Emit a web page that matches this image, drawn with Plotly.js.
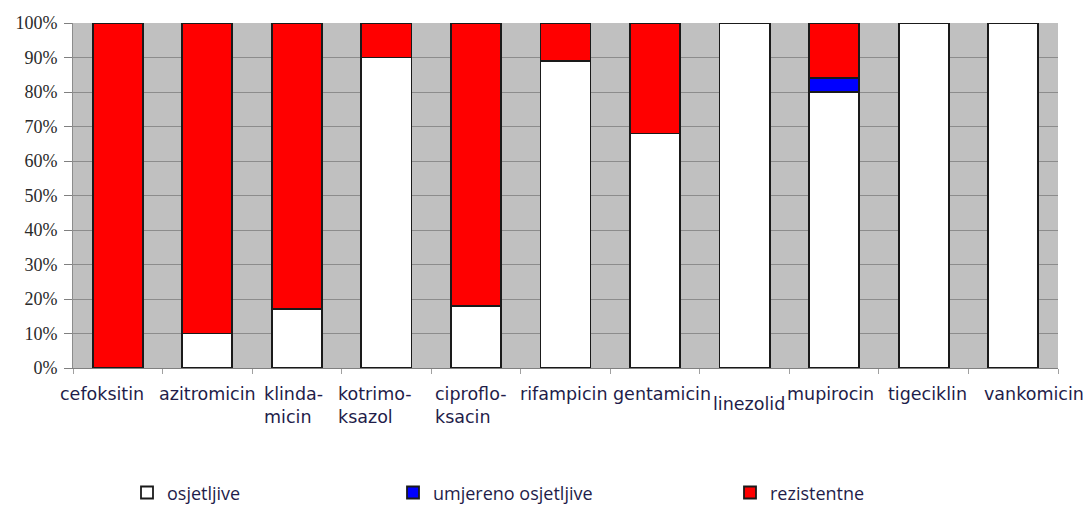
<!DOCTYPE html>
<html>
<head>
<meta charset="utf-8">
<script src="https://cdn.plot.ly/plotly-3.0.1.min.js"></script>
<style>html,body{margin:0;padding:0;background:#fff;}#chart{width:1089px;height:507px;}</style>
</head>
<body>
<div id="chart"></div>
<script>
const categories = ["cefoksitin","azitromicin","klindamicin","kotrimoksazol","ciprofloksacin","rifampicin","gentamicin","linezolid","mupirocin","tigeciklin","vankomicin"];
const tickLabels = ["cefoksitin","azitromicin","klinda-<br>micin","kotrimo-<br>ksazol","ciproflo-<br>ksacin","rifampicin","gentamicin","linezolid","mupirocin","tigeciklin","vankomicin"];
const osjetljive = [0,10,17,90,18,89,68,100,80,100,100];
const umjereno = [0,0,0,0,0,0,0,0,4,0,0];
const rezistentne = [100,90,83,10,82,11,32,0,16,0,0];
const seriesNames = ["osjetljive","umjereno osjetljive","rezistentne"];

const labelShift = [-16,0,-3,-11,-5,-2,7,4,-4,4,21];
const labelDy = [0,0,0,0,0,0,0,10,0,0,0];

const lineStyle = {color:"#1a1a1a", width:1.8};
const traces = [
  {type:"bar", name:seriesNames[0], x:categories, y:osjetljive, marker:{color:"#ffffff", line:lineStyle}, legend:"legend"},
  {type:"bar", name:seriesNames[1], x:categories, y:umjereno, marker:{color:"#0000ff", line:lineStyle}, legend:"legend2"},
  {type:"bar", name:seriesNames[2], x:categories, y:rezistentne, marker:{color:"#ff0000", line:lineStyle}, legend:"legend3"}
];

const annotations = categories.map((c,i)=>({
  x:c, y:0, xref:"x", yref:"y", yanchor:"top", xanchor:"center", align:"left",
  text:tickLabels[i], showarrow:false, xshift:labelShift[i], yshift:-14-labelDy[i],
  font:{family:"'DejaVu Sans', Verdana, sans-serif", size:17.5, color:"#1f1d4a"}
}));

const legFont = {family:"'Open Sans', sans-serif", size:18, color:"#1f1d4a"};
const legBase = {orientation:"h", yanchor:"middle", xanchor:"left", xref:"paper", yref:"container", y:0.028, font:legFont, bgcolor:"rgba(0,0,0,0)", itemwidth:30};

const layout = {
  width:1089, height:507,
  margin:{l:73, r:31, t:23, b:139},
  paper_bgcolor:"#ffffff", plot_bgcolor:"#c0c0c0",
  barmode:"stack", bargap:0.44,
  showlegend:true,
  legend:Object.assign({}, legBase, {x:(127-73)/985}),
  legend2:Object.assign({}, legBase, {x:(393-73)/985}),
  legend3:Object.assign({}, legBase, {x:(730-73)/985}),
  xaxis:{range:[-0.5,10.5], autorange:false, showticklabels:false, tickson:"boundaries", ticks:"outside", ticklen:5, tickcolor:"#a0a0a0",
    showgrid:false, showline:true, linecolor:"#808080", linewidth:1, zeroline:false, fixedrange:true},
  yaxis:{range:[0,100], dtick:10, ticksuffix:"%", ticks:"outside", ticklen:8, tickcolor:"#808080",
    showgrid:true, gridcolor:"#8c8c8c", gridwidth:1, zeroline:false, showline:true, linecolor:"#8c8c8c", linewidth:1,
    tickfont:{family:"Times New Roman, Liberation Serif, Times, serif", size:18, color:"#2a2a2a"}, ticklabelstandoff:3},
  annotations:annotations
};

Plotly.newPlot("chart", traces, layout, {displayModeBar:false, staticPlot:true});
</script>
</body>
</html>
